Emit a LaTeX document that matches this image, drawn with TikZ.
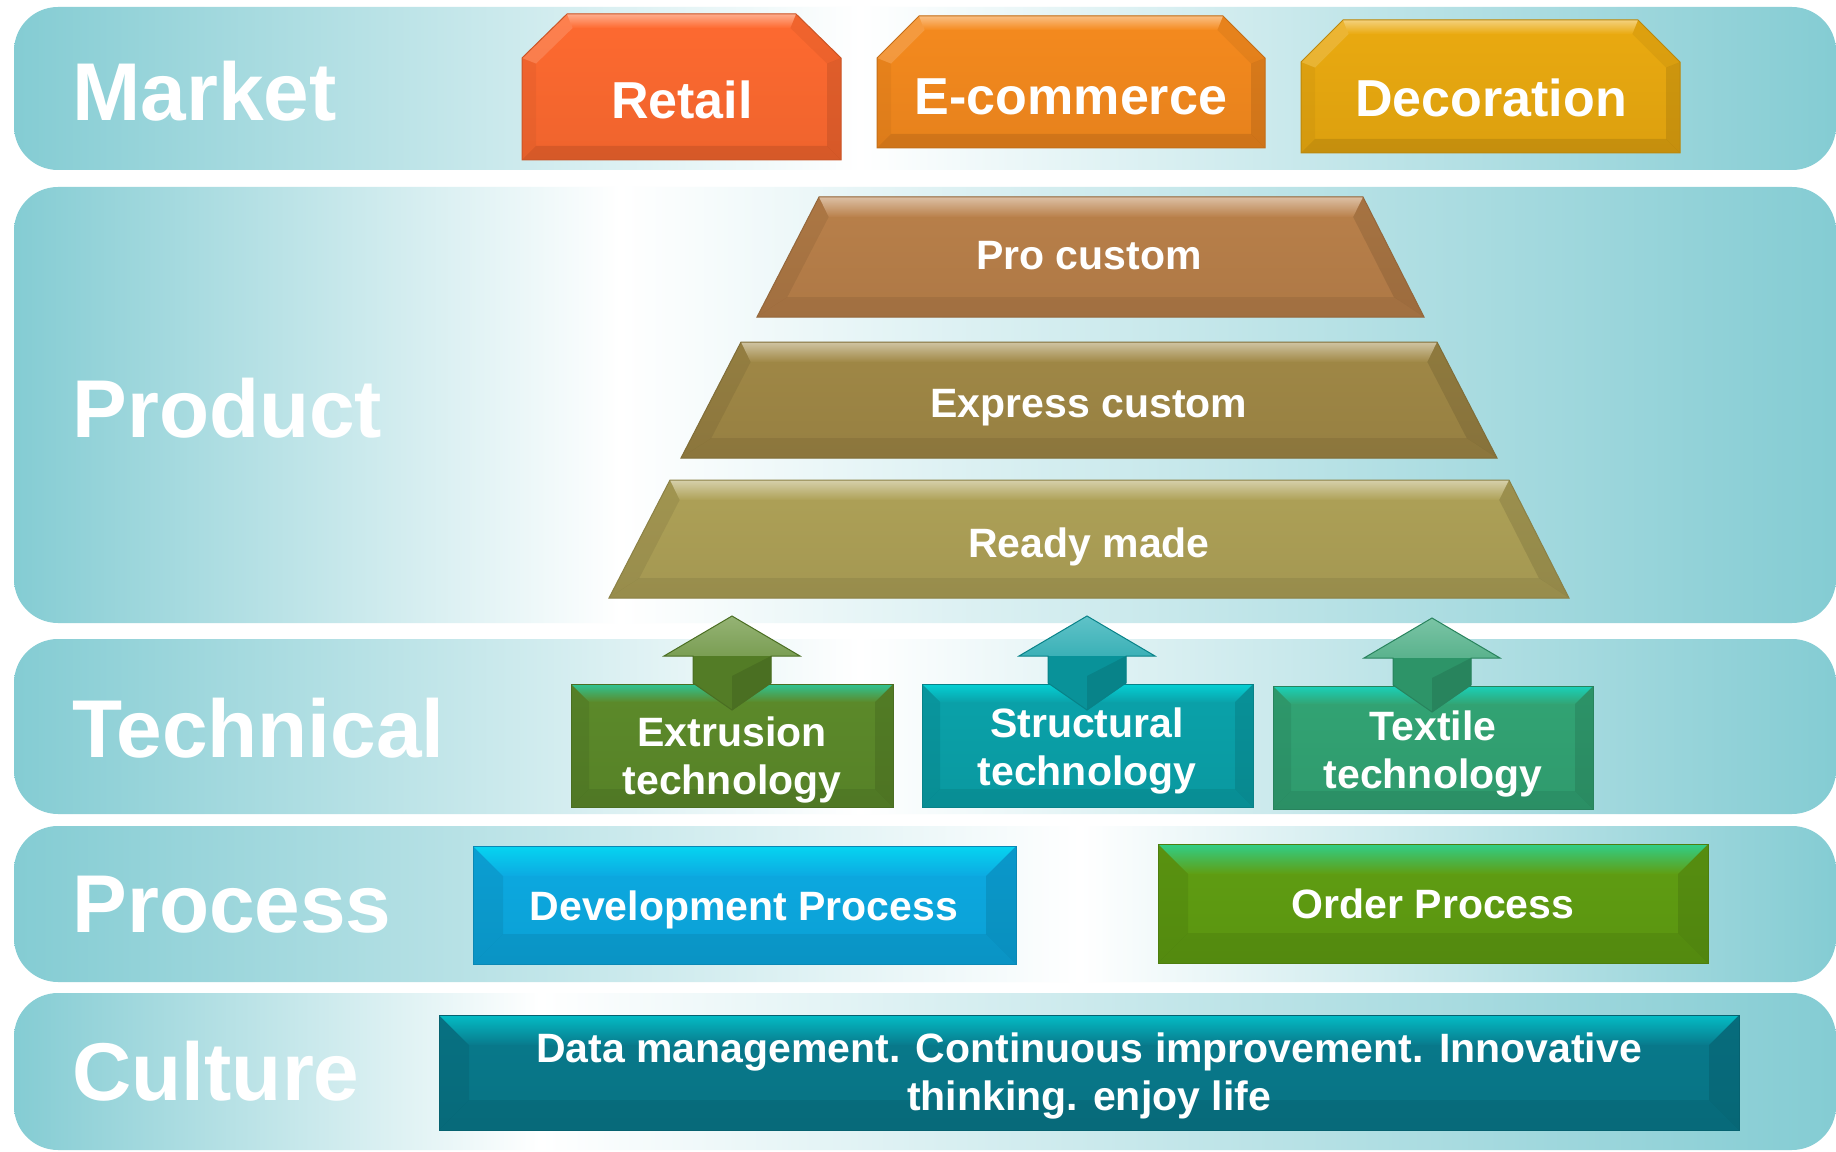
\documentclass[tikz,border=0pt]{standalone}
\usepackage{fontspec}
\setmainfont{Liberation Sans}

\definecolor{bandteal}{RGB}{132,204,211}
\definecolor{retail}{RGB}{254,106,48}
\definecolor{ecom}{RGB}{245,138,30}
\definecolor{decor}{RGB}{234,170,16}
\definecolor{procust}{RGB}{185,128,74}
\definecolor{expcust}{RGB}{160,136,70}
\definecolor{ready}{RGB}{174,161,87}
\definecolor{extru}{RGB}{92,138,42}
\definecolor{struct}{RGB}{10,162,170}
\definecolor{textile}{RGB}{50,164,116}
\definecolor{devproc}{RGB}{12,170,226}
\definecolor{ordproc}{RGB}{96,158,18}
\definecolor{culture}{RGB}{8,122,140}

\tikzset{every picture/.style={line width=0.75pt}}
\tikzset{
  band title/.style={anchor=base west, inner sep=0pt, text=white, font=\fontsize{61.5}{64}\selectfont\bfseries},
  tab text/.style={anchor=base, inner sep=0pt, text=white, font=\fontsize{39}{42}\selectfont\bfseries},
  slab text/.style={anchor=base, inner sep=0pt, text=white, align=center, font=\fontsize{30.75}{36}\selectfont\bfseries},
  two lines/.style={anchor=center},
}

% bevel depth and highlight colour, set before each group
\def\bev{14}
\def\glow{white}

% rounded band: #1 top y, #2 bottom y, #3 x of the light middle
\newcommand{\band}[3]{%
  \begin{scope}
    \clip[rounded corners=33pt] (14,#1) rectangle (1836,#2);
    \shade[left color=bandteal, right color=white] (14,#1) rectangle (#3,#2);
    \shade[left color=white, right color=bandteal] (#3,#1) rectangle (1836,#2);
  \end{scope}}

% bevelled slab: #1/#2 top left/right x, #3/#4 bottom left/right x, #5/#6 top/bottom y, #7 colour
\newcommand{\slab}[7]{%
  \shade[top color=#7, bottom color=#7!94!black] (#1,#5) -- (#2,#5) -- (#4,#6) -- (#3,#6) -- cycle;
  \shade[top color=#7!50!\glow, bottom color=#7] (#1,#5) -- (#2,#5) -- ({#2+(#4-#2)*\bev/(#6-#5)-\bev},{#5+\bev}) -- ({#1+(#3-#1)*\bev/(#6-#5)+\bev},{#5+\bev}) -- cycle;
  \fill[black,opacity=.07] (#3,#6) -- (#4,#6) -- ({#4-(#4-#2)*\bev/(#6-#5)-\bev},{#6-\bev}) -- ({#3-(#3-#1)*\bev/(#6-#5)+\bev},{#6-\bev}) -- cycle;
  \fill[black,opacity=.07] (#1,#5) -- ({#1+(#3-#1)*\bev/(#6-#5)+\bev},{#5+\bev}) -- ({#3-(#3-#1)*\bev/(#6-#5)+\bev},{#6-\bev}) -- (#3,#6) -- cycle;
  \fill[black,opacity=.1] (#2,#5) -- ({#2+(#4-#2)*\bev/(#6-#5)-\bev},{#5+\bev}) -- ({#4-(#4-#2)*\bev/(#6-#5)-\bev},{#6-\bev}) -- (#4,#6) -- cycle;
  \draw[#7!80!black] (#1,#5) -- (#2,#5) -- (#4,#6) -- (#3,#6) -- cycle;}

% house-shaped tab: #1/#2 left/right x, #3 top y, #4 shoulder y, #5 bottom y, #6 chamfer, #7 colour
\newcommand{\housetab}[7]{%
  \shade[top color=#7, bottom color=#7!94!black] ({#1+#6},#3) -- ({#2-#6},#3) -- (#2,#4) -- (#2,#5) -- (#1,#5) -- (#1,#4) -- cycle;
  \shade[top color=#7!55!white, bottom color=#7] ({#1+#6},#3) -- ({#2-#6},#3) -- ({#2-#6-.4*\bev},{#3+\bev}) -- ({#1+#6+.4*\bev},{#3+\bev}) -- cycle;
  \fill[white,opacity=.15] (#1,#4) -- ({#1+#6},#3) -- ({#1+#6+.4*\bev},{#3+\bev}) -- ({#1+\bev},{#4+.4*\bev}) -- cycle;
  \fill[black,opacity=.05] ({#2-#6},#3) -- (#2,#4) -- ({#2-\bev},{#4+.4*\bev}) -- ({#2-#6-.4*\bev},{#3+\bev}) -- cycle;
  \fill[black,opacity=.1] (#2,#4) -- (#2,#5) -- ({#2-\bev},{#5-\bev}) -- ({#2-\bev},{#4+.4*\bev}) -- cycle;
  \fill[black,opacity=.1] (#2,#5) -- (#1,#5) -- ({#1+\bev},{#5-\bev}) -- ({#2-\bev},{#5-\bev}) -- cycle;
  \fill[black,opacity=.04] (#1,#5) -- (#1,#4) -- ({#1+\bev},{#4+.4*\bev}) -- ({#1+\bev},{#5-\bev}) -- cycle;
  \draw[#7!80!black] ({#1+#6},#3) -- ({#2-#6},#3) -- (#2,#4) -- (#2,#5) -- (#1,#5) -- (#1,#4) -- cycle;}

% up arrow with a pointed foot: #1 centre x, #2 tip y, #3 colour
\newcommand{\upshaft}[3]{%
  \shade[top color=#3!65!white, bottom color=#3!94!black] (#1,#2) -- ({#1+68},{#2+40}) -- ({#1+39},{#2+40}) -- ({#1+39},{#2+67}) -- (#1,{#2+94}) -- ({#1-39},{#2+67}) -- ({#1-39},{#2+40}) -- ({#1-68},{#2+40}) -- cycle;
  \fill[#3!90!black] ({#1-39},{#2+40}) -- ({#1+39},{#2+40}) -- ({#1+39},{#2+67}) -- (#1,{#2+94}) -- ({#1-39},{#2+67}) -- cycle;
  \fill[black,opacity=.1] ({#1+39},{#2+40}) -- ({#1+39},{#2+67}) -- (#1,{#2+94}) -- (#1,{#2+60}) -- cycle;
  \draw[#3!80!black] (#1,#2) -- ({#1+68},{#2+40}) -- ({#1+39},{#2+40}) -- ({#1+39},{#2+67}) -- (#1,{#2+94}) -- ({#1-39},{#2+67}) -- ({#1-39},{#2+40}) -- ({#1-68},{#2+40}) -- cycle;}

\begin{document}
\begin{tikzpicture}[x=0.75pt,y=0.75pt,yscale=-1]
	\useasboundingbox (0,0) rectangle (1836,1152);
	\fill[white] (0,0) rectangle (1836,1152);
	
	%Bands
	\band{7}{170}{860}
	\band{187}{623}{620}
	\band{639}{814}{860}
	\band{826}{982}{1080}
	\band{993}{1150}{540}
	
	% Band titles
	\node[band title] (market) at (72,121) {Market};
	\node[band title] (product) at (72,437) {Product};
	\node[band title] (technical) at (72,757) {Technical};
	\node[band title] (process) at (72,932) {Process};
	\node[band title] (culture) at (72,1100) {Culture};
	
	%Shape: Market tabs
	\def\bev{14}
	\housetab{522}{841}{14}{58}{160}{45}{retail}
	\housetab{877}{1265}{16}{58}{148}{42}{ecom}
	\housetab{1301}{1680}{20}{62}{153}{42}{decor}
	% Text Node
	\node[tab text] (retailtxt) at (682,119) {Retail};
	\node[tab text] (ecomtxt) at (1071,115) {E-commerce};
	\node[tab text] (decortxt) at (1491,117) {Decoration};
	
	%Shape: Product pyramid
	\def\bev{20}
	\slab{819}{1363}{757}{1424}{197}{317}{procust}
	\slab{741}{1437}{681}{1497}{342}{458}{expcust}
	\slab{670}{1509}{609}{1569}{480}{598}{ready}
	% Text Node
	\node[slab text] (procustom) at (1089,270) {Pro custom};
	\node[slab text] (expresscustom) at (1089,417) {Express custom};
	\node[slab text] (readymade) at (1089,557) {Ready made};
	
	%Shape: Technical boxes and arrows
	\def\bev{18}
	\def\glow{cyan}
	\slab{571}{893}{571}{893}{684}{807}{extru}
	\slab{922}{1253}{922}{1253}{684}{807}{struct}
	\slab{1273}{1593}{1273}{1593}{686}{809}{textile}
	\upshaft{732}{616}{extru}
	\upshaft{1087}{616}{struct}
	\upshaft{1432}{618}{textile}
	% Text Node
	\node[slab text,two lines] (extrusion) at (732,760) {Extrusion\\technology};
	\node[slab text,two lines] (structural) at (1087,751) {Structural\\technology};
	\node[slab text,two lines] (textiletech) at (1433,754) {Textile\\technology};
	
	%Shape: Process boxes
	\def\bev{30}
	\slab{473}{1016}{473}{1016}{846}{964}{devproc}
	\slab{1158}{1708}{1158}{1708}{844}{963}{ordproc}
	% Text Node
	\node[slab text] (development) at (744,920) {Development Process};
	\node[slab text] (order) at (1433,918) {Order Process};
	
	%Shape: Culture box
	\slab{439}{1739}{439}{1739}{1015}{1130}{culture}
	% Text Node
	\node[slab text,two lines] (values) at (1089,1076) {Data management. Continuous improvement. Innovative\\thinking. enjoy life};
	
\end{tikzpicture}
\end{document}
